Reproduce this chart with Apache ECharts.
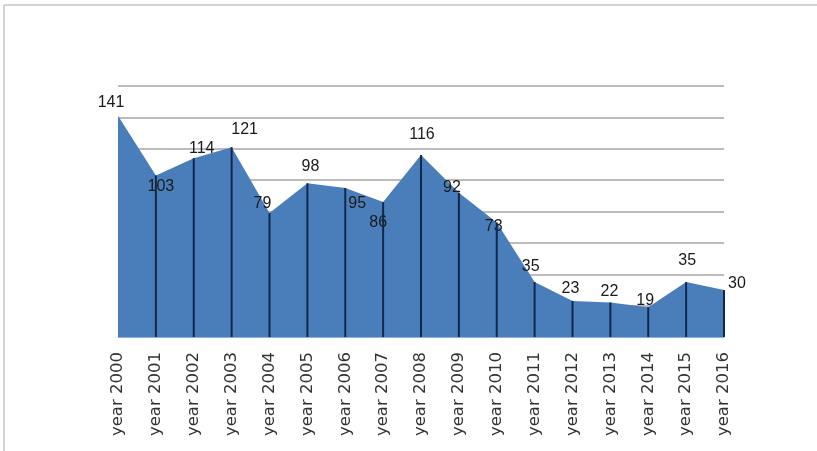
<!DOCTYPE html>
<html>
<head>
<meta charset="utf-8">
<script src="https://cdn.jsdelivr.net/npm/echarts@6/dist/echarts.min.js"></script>
<style>
  html, body { margin: 0; padding: 0; background: #ffffff; }
  #chart { width: 817px; height: 451px; }
</style>
</head>
<body>
<div id="chart"></div>
<script>
// Yearly counts, 2000–2016
const categories = ['year 2000', 'year 2001', 'year 2002', 'year 2003', 'year 2004', 'year 2005',
  'year 2006', 'year 2007', 'year 2008', 'year 2009', 'year 2010', 'year 2011', 'year 2012',
  'year 2013', 'year 2014', 'year 2015', 'year 2016'];
const values = [141, 103, 114, 121, 79, 98, 95, 86, 116, 92, 73, 35, 23, 22, 19, 35, 30];

// Label nudges per point (dx, dy in px from the point)
const labelOffsets = [
  [-7, -13], [5, 11], [8, -10], [13, -18], [-7, -9], [3, -17], [12, 16], [-5, 21],
  [1, -20], [-7, -5], [-3, 4], [-4, -16], [-2, -12], [-1, -11], [-3, -7], [1, -22], [13, -6]
];

const chart = echarts.init(document.getElementById('chart'), null, { renderer: 'canvas' });

const areaData = values.map((v, i) => ({
  value: v,
  label: { offset: labelOffsets[i] }
}));

// Drop lines from each point down to the baseline (none at the first edge)
const dropData = values.map((v, i) => (i === 0 ? '-' : v));

chart.setOption({
  animation: false,
  backgroundColor: '#ffffff',
  graphic: [
    { type: 'line', shape: { x1: 4, y1: 5, x2: 817, y2: 5 }, style: { stroke: '#d4d4d4', lineWidth: 2 }, z: 100 },
    { type: 'line', shape: { x1: 4, y1: 5, x2: 4, y2: 451 }, style: { stroke: '#d4d4d4', lineWidth: 2 }, z: 100 }
  ],
  grid: { left: 118, right: 93, top: 86, bottom: 114, containLabel: false },
  xAxis: {
    type: 'category',
    data: categories,
    boundaryGap: false,
    axisLine: { show: true, lineStyle: { color: '#8fb0d8', width: 1 } },
    axisTick: { show: false },
    axisLabel: {
      rotate: 90,
      interval: 0,
      margin: 15,
      color: '#333333',
      fontFamily: 'DejaVu Sans',
      fontSize: 16.5
    },
    splitLine: { show: false }
  },
  yAxis: {
    type: 'value',
    min: 0,
    max: 160,
    interval: 20,
    axisLine: { show: false },
    axisTick: { show: false },
    axisLabel: { show: false },
    splitLine: { show: true, lineStyle: { color: '#a6a6a6', width: 1.5 } }
  },
  series: [
    {
      type: 'line',
      data: areaData,
      symbol: 'circle',
      symbolSize: 1,
      showSymbol: true,
      itemStyle: { color: 'rgba(0,0,0,0)' },
      lineStyle: { width: 0 },
      areaStyle: { color: '#4a7ebb', opacity: 1 },
      z: 2,
      label: {
        show: true,
        position: 'inside',
        color: '#1a1a1a',
        fontFamily: 'Liberation Sans',
        fontSize: 16
      }
    },
    {
      type: 'bar',
      data: dropData,
      barWidth: 2,
      itemStyle: { color: '#10284d' },
      z: 3,
      silent: true
    }
  ]
});
</script>
</body>
</html>
